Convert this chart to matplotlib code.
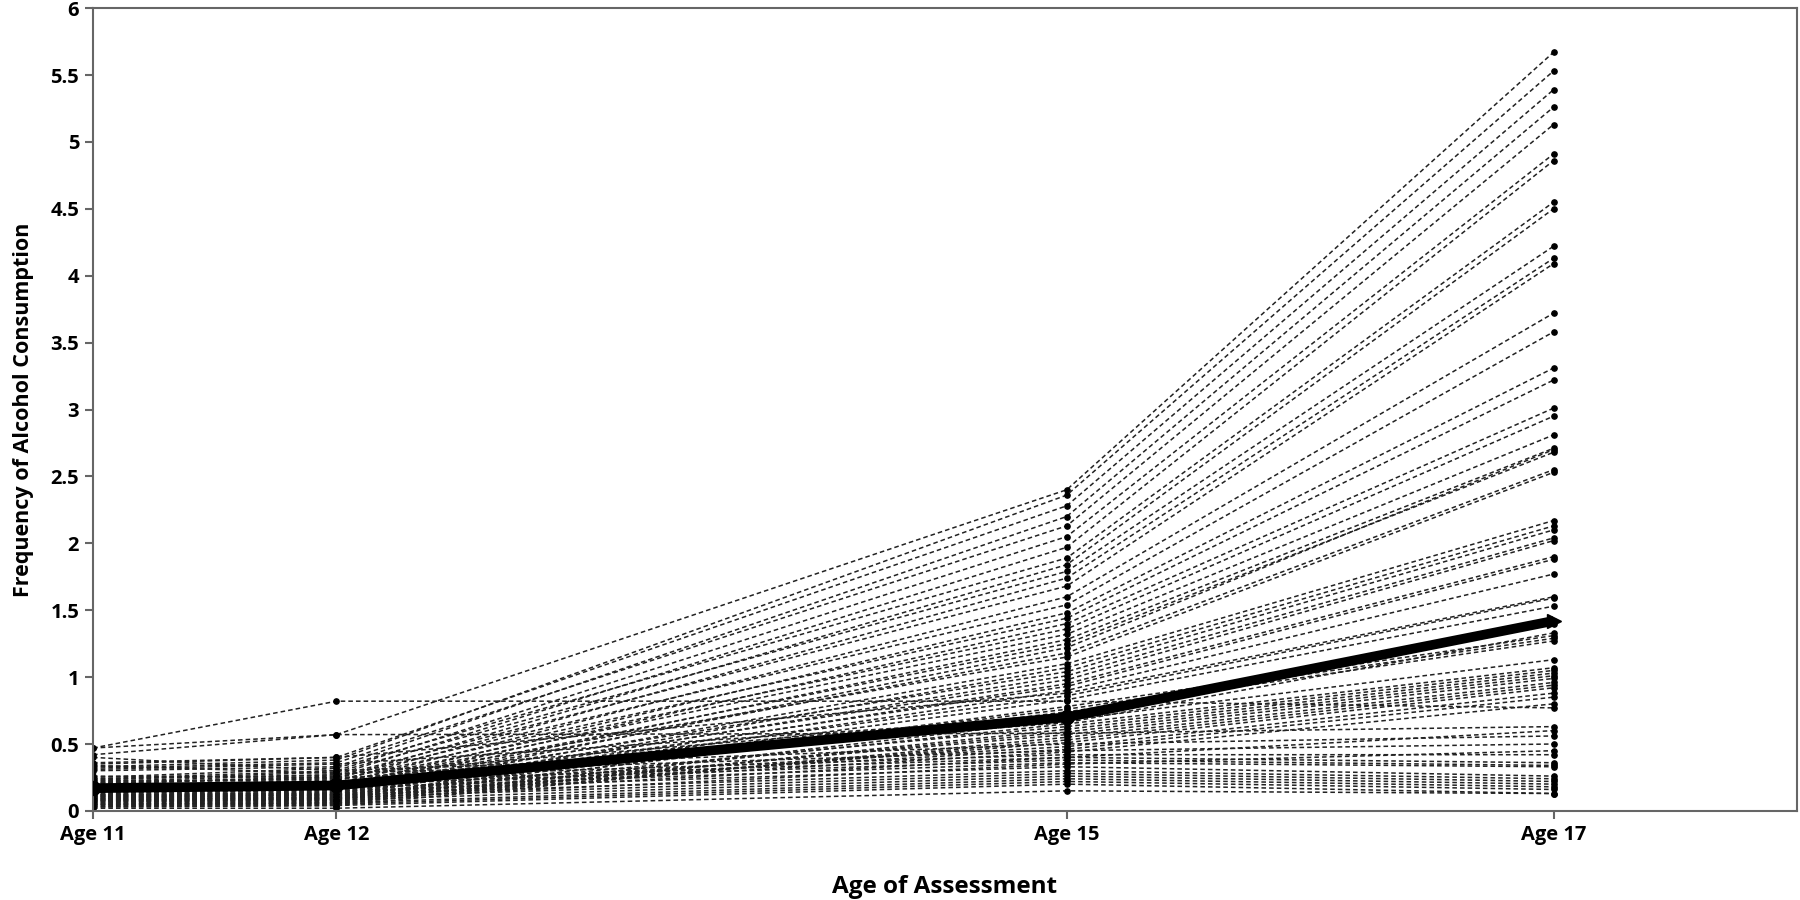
import matplotlib
matplotlib.use('Agg')
import matplotlib.pyplot as plt

plt.rcParams['font.family'] = ['Open Sans', 'DejaVu Sans']

ages = [11, 12, 15, 17]
age_labels = ['Age 11', 'Age 12', 'Age 15', 'Age 17']

# individual trajectories, one entry per person
age11 = [0.42, 0.33, 0.35, 0.30, 0.32, 0.24, 0.22, 0.25, 0.21, 0.23, 0.19, 0.20,
         0.17, 0.21, 0.16, 0.18, 0.14, 0.19, 0.15, 0.12, 0.15, 0.11, 0.13, 0.17,
         0.12, 0.09, 0.13, 0.10, 0.12, 0.08, 0.11, 0.07, 0.11, 0.09, 0.06, 0.10,
         0.08, 0.05, 0.07, 0.10, 0.04, 0.06, 0.09, 0.03, 0.05, 0.08,
         0.47, 0.47, 0.40, 0.34, 0.26, 0.23, 0.21, 0.18, 0.14, 0.11, 0.09, 0.07,
         0.05, 0.04, 0.03, 0.02,
         0.31, 0.24, 0.22, 0.36, 0.16, 0.14, 0.12, 0.10, 0.08]
age12 = [0.57, 0.38, 0.40, 0.33, 0.36, 0.30, 0.27, 0.32, 0.24, 0.29, 0.22, 0.26,
         0.20, 0.25, 0.18, 0.23, 0.16, 0.21, 0.19, 0.14, 0.17, 0.12, 0.15, 0.20,
         0.13, 0.10, 0.16, 0.11, 0.14, 0.09, 0.12, 0.08, 0.13, 0.10, 0.07, 0.11,
         0.09, 0.06, 0.08, 0.12, 0.05, 0.07, 0.10, 0.04, 0.06, 0.09,
         0.82, 0.57, 0.30, 0.28, 0.25, 0.22, 0.20, 0.17, 0.15, 0.12, 0.10, 0.08,
         0.06, 0.05, 0.04, 0.02,
         0.35, 0.27, 0.24, 0.40, 0.18, 0.16, 0.13, 0.11, 0.09]
age15 = [2.40, 2.36, 2.28, 2.20, 2.13, 2.05, 1.97, 1.89, 1.84, 1.79, 1.74, 1.68,
         1.60, 1.54, 1.48, 1.44, 1.40, 1.36, 1.32, 1.28, 1.25, 1.22, 1.18, 1.15,
         1.10, 1.07, 1.04, 1.01, 0.98, 0.95, 0.93, 0.90, 0.86, 0.83, 0.78, 0.76,
         0.74, 0.68, 0.65, 0.63, 0.61, 0.59, 0.57, 0.55, 0.53, 0.51,
         0.82, 0.58, 0.50, 0.45, 0.42, 0.40, 0.38, 0.36, 0.33, 0.30, 0.28, 0.26,
         0.24, 0.22, 0.20, 0.15,
         0.70, 0.72, 0.66, 0.88, 0.48, 0.46, 0.44, 0.40, 0.35]
age17 = [5.67, 5.53, 5.39, 5.26, 5.13, 4.91, 4.86, 4.55, 4.50, 4.22, 4.13, 4.09,
         3.72, 3.58, 3.31, 3.22, 3.01, 2.95, 2.81, 2.71, 2.68, 2.70, 2.55, 2.53,
         2.17, 2.13, 2.10, 2.04, 2.02, 1.90, 1.88, 1.77, 1.59, 1.53, 1.31, 1.29,
         1.27, 1.13, 1.07, 1.05, 1.03, 1.01, 0.99, 0.96, 0.94, 0.92,
         0.77, 0.63, 0.56, 0.50, 0.42, 0.36, 0.34, 0.33, 0.26, 0.24, 0.22, 0.20,
         0.18, 0.16, 0.13, 0.13,
         1.42, 1.40, 1.33, 1.60, 0.88, 0.85, 0.80, 0.60, 0.45]

# sample mean trajectory
mean_vals = [0.17, 0.19, 0.70, 1.42]

fig = plt.figure(figsize=(18, 9), dpi=100)
ax = fig.add_axes([0.0517, 0.099, 0.9466, 0.892])

for i in range(len(age17)):
    person = [age11[i], age12[i], age15[i], age17[i]]
    ax.plot(ages, person, color='#222222', lw=1.1, ls=(0, (3, 2)),
            marker='o', ms=3.8, mfc='black', mec='black', zorder=2)

ax.plot(ages, mean_vals, color='black', lw=7, solid_capstyle='butt', zorder=4)
ax.plot(ages[:3], mean_vals[:3], ls='none', marker='o', ms=10, color='black', zorder=5)
ax.plot(ages[3:], mean_vals[3:], ls='none', marker='>', ms=10, color='black', zorder=5)

ax.set_xlim(11, 18)
ax.set_ylim(0, 6)
ax.set_xticks(ages)
ax.set_xticklabels(age_labels)
ax.set_yticks([0, 0.5, 1, 1.5, 2, 2.5, 3, 3.5, 4, 4.5, 5, 5.5, 6])
ax.set_yticklabels(['0', '0.5', '1', '1.5', '2', '2.5', '3', '3.5', '4', '4.5', '5', '5.5', '6'])

for sp in ax.spines.values():
    sp.set_color('#666666')
    sp.set_linewidth(1.5)
ax.tick_params(axis='both', direction='out', length=6, width=1.5, color='#666666',
               labelsize=14.5, pad=4)
for lab in ax.get_xticklabels() + ax.get_yticklabels():
    lab.set_fontweight('bold')

ax.set_ylabel('Frequency of Alcohol Consumption', fontsize=15.5, fontweight='bold', labelpad=12)
ax.set_xlabel('Age of Assessment', fontsize=17.5, fontweight='bold', labelpad=22)

fig.savefig('out.png', dpi=100)
